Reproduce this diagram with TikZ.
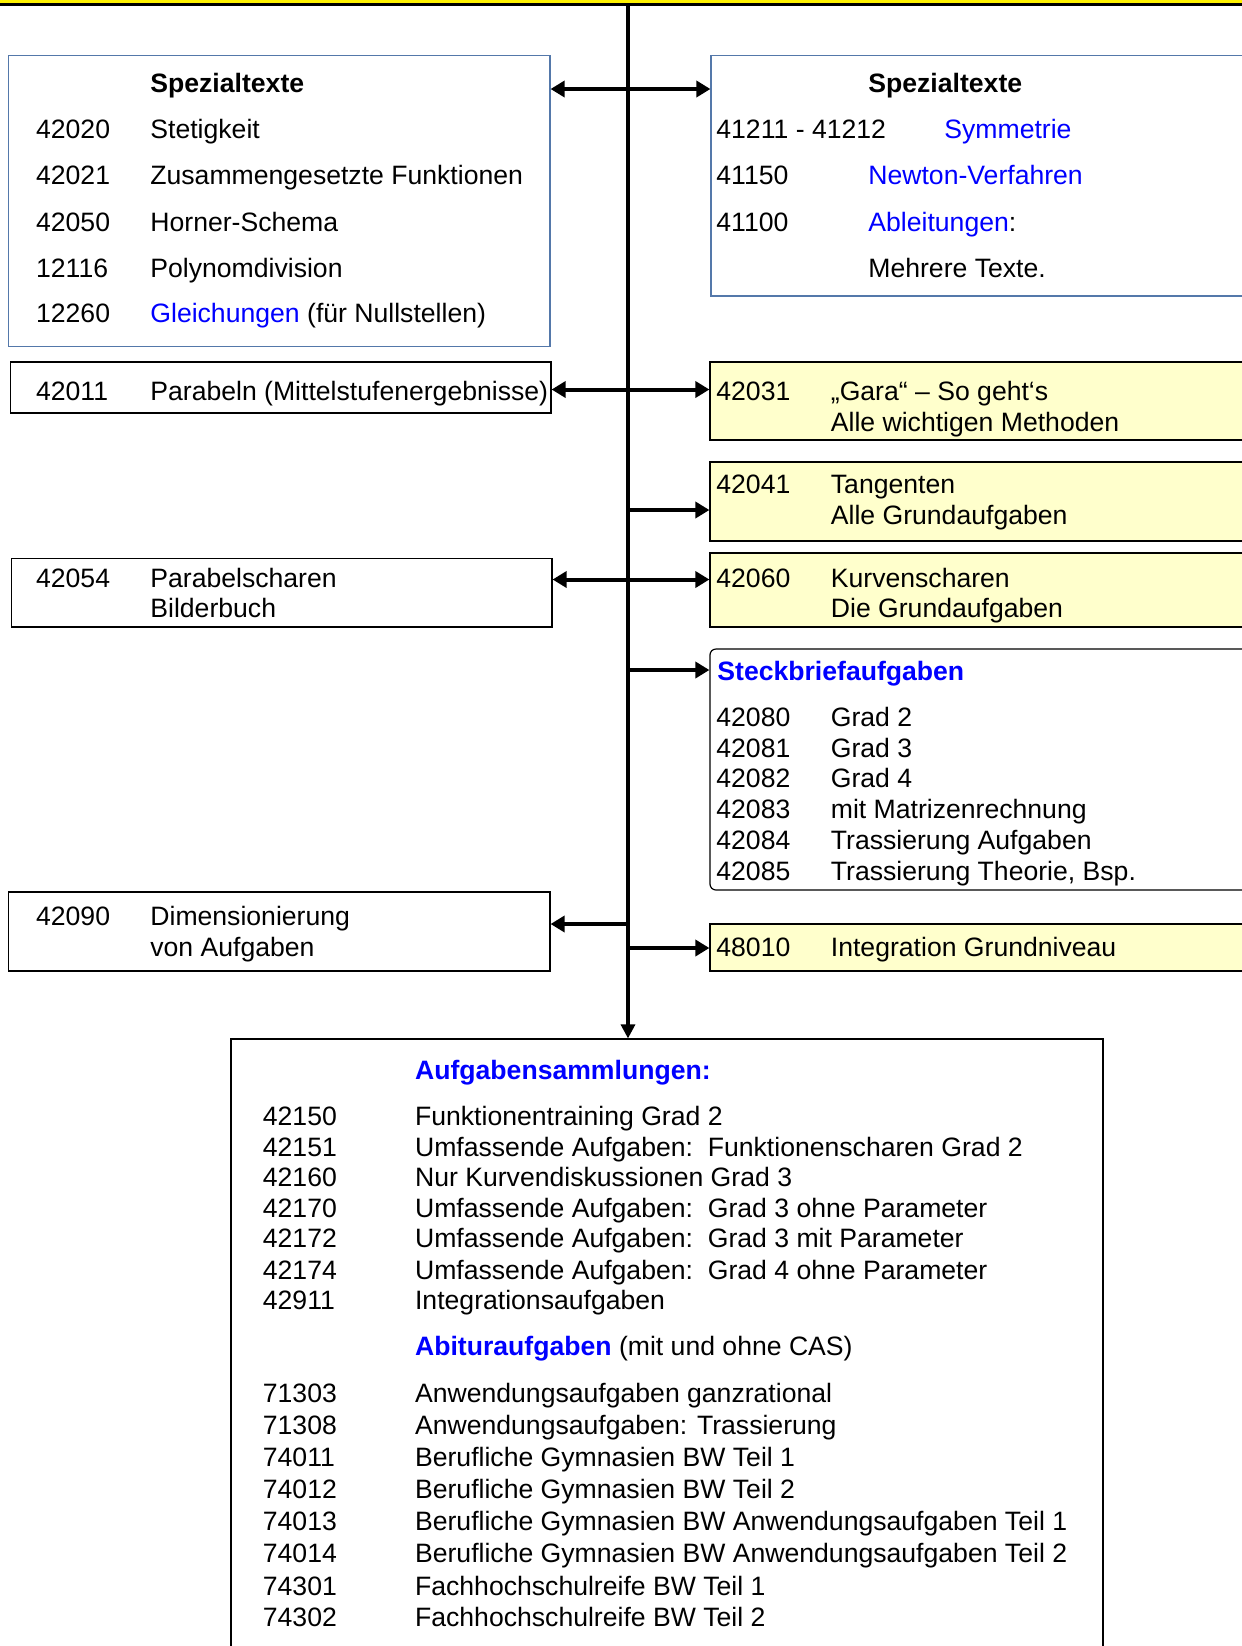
\documentclass[tikz,border=0pt]{standalone}
\usepackage{fontspec}
\setmainfont{Liberation Sans}
\usetikzlibrary{arrows.meta, fit}
\usepackage{xcolor}
\definecolor{specblue}{RGB}{84,120,170}
\definecolor{paleyellow}{RGB}{255,255,204}
\definecolor{linkblue}{RGB}{0,0,255}

\tikzset{
  box/.style={draw, line width=0.6pt, inner sep=0pt},
  specbox/.style={box, draw=specblue},
  yellowbox/.style={box, fill=paleyellow},
  txt/.style={anchor=base west, inner sep=0pt, font=\fontsize{13.3}{15.35}\selectfont},
  arr/.style={line width=2pt, -{Triangle[length=7pt,width=8pt]}},
}

\begin{document}
\begin{tikzpicture}[x=0.5pt,y=-0.5pt]
            \useasboundingbox (0,0) rectangle (1242,1646);
            % Header bar, only its lower edge is visible
            \node[fit={(-10,-60) (1260,4)}, fill=yellow, draw, line width=1.5pt, inner sep=0pt] (top) {};
            % Boxes left and right of the spine
            \node[specbox, fit={(8.4,55.6) (550,346.5)}] (l1) {};
            \node[specbox, fit={(711,55.6) (1300,296)}] (r1) {};
            \node[box, fit={(10.5,362) (551,413)}] (l2) {};
            \node[yellowbox, fit={(710,362) (1300,440)}] (r2) {};
            \node[yellowbox, fit={(710,462) (1300,541)}] (r3) {};
            \node[box, fit={(11.5,558.5) (552,627)}] (l3) {};
            \node[yellowbox, fit={(710,553) (1300,627)}] (r4) {};
            \node[box, rounded corners=3pt, fit={(710,649) (1300,890)}] (r5) {};
            \node[box, fit={(8.4,892) (550,971)}] (l4) {};
            \node[yellowbox, fit={(710,924) (1300,971)}] (r6) {};
            \node[box, fit={(231,1039) (1103,1700)}] (sam) {};
            % The spine
            \coordinate (spine) at (628,0);
            \draw[line width=1.6pt, -{Triangle[length=7pt,width=7pt]}] (top.south -| spine) -- (sam.north -| spine);
            \foreach \nm/\y in {a/89, b/389.5, c/510, d/579.5, e/670, f/924, g/948}
                \coordinate (\nm) at (628,\y);
            \foreach \src/\tgt in {a/l1.east, a/r1.west, b/l2.east, b/r2.west, c/r3.west,
                                   d/l3.east, d/r4.west, e/r5.west, f/l4.east, g/r6.west}
                \draw[arr] (\src) -- (\src -| \tgt);
            % Spezialtexte left
            \node[txt] (l1h) at (150,92.4) {\bfseries Spezialtexte};
            \foreach \i/\y/\n/\t in {1/138.6/42020/Stetigkeit, 2/184.8/42021/Zusammengesetzte Funktionen,
                                     3/231/42050/Horner-Schema, 4/277.2/12116/Polynomdivision,
                                     5/322.4/12260/{{\color{linkblue}Gleichungen} (für Nullstellen)}} {
                \node[txt] (l1n\i) at (35.7,\y) {\n};
                \node[txt] (l1t\i) at (150,\y) {\t};
            }
            % Spezialtexte right
            \node[txt] (r1h) at (868,92.4) {\bfseries Spezialtexte};
            \node[txt] (r1n1) at (716,138.6) {41211 - 41212};
            \node[txt, text=linkblue] (r1t1) at (944,138.6) {Symmetrie};
            \node[txt] (r1n2) at (716,184.8) {41150};
            \node[txt, text=linkblue] (r1t2) at (868,184.8) {Newton-Verfahren};
            \node[txt] (r1n3) at (716,231) {41100};
            \node[txt] (r1t3) at (868,231) {{\color{linkblue}Ableitungen}:};
            \node[txt] (r1t4) at (868,277.2) {Mehrere Texte.};
            % Single entries
            \node[txt] (l2n) at (35.7,400) {42011};
            \node[txt] (l2t) at (150,400) {Parabeln (Mittelstufenergebnisse)};
            \node[txt] (r2n) at (716,400) {42031};
            \node[txt] (r2t) at (830.5,400) {„Gara“ – So geht‘s};
            \node[txt] (r2u) at (830.5,431.6) {Alle wichtigen Methoden};
            \node[txt] (r3n) at (716,493.5) {42041};
            \node[txt] (r3t) at (830.5,493.5) {Tangenten};
            \node[txt] (r3u) at (830.5,524) {Alle Grundaufgaben};
            \node[txt] (l3n) at (35.7,587) {42054};
            \node[txt] (l3t) at (150,587) {Parabelscharen};
            \node[txt] (l3u) at (150,617.4) {Bilderbuch};
            \node[txt] (r4n) at (716,587) {42060};
            \node[txt] (r4t) at (830.5,587) {Kurvenscharen};
            \node[txt] (r4u) at (830.5,617.4) {Die Grundaufgaben};
            % Steckbriefaufgaben
            \node[txt, text=linkblue] (r5h) at (717,680.4) {\bfseries Steckbriefaufgaben};
            \foreach \i/\y/\n/\t in {1/726.6/42080/Grad 2, 2/757/42081/Grad 3, 3/787.5/42082/Grad 4,
                                     4/818/42083/mit Matrizenrechnung, 5/849.4/42084/Trassierung Aufgaben,
                                     6/880/42085/{Trassierung Theorie, Bsp.}} {
                \node[txt] (r5n\i) at (716,\y) {\n};
                \node[txt] (r5t\i) at (830.5,\y) {\t};
            }
            \node[txt] (l4n) at (35.7,925) {42090};
            \node[txt] (l4t) at (150,925) {Dimensionierung};
            \node[txt] (l4u) at (150,956.5) {von Aufgaben};
            \node[txt] (r6n) at (716,956.5) {48010};
            \node[txt] (r6t) at (830.5,956.5) {Integration Grundniveau};
            % Aufgabensammlungen
            \node[txt, text=linkblue] (samh) at (414.7,1079.4) {\bfseries Aufgabensammlungen:};
            \foreach \i/\y/\n/\t in {1/1125.6/42150/Funktionentraining Grad 2,
                                     2/1156/42151/Umfassende Aufgaben:\ \ Funktionenscharen Grad 2,
                                     3/1186.5/42160/Nur Kurvendiskussionen Grad 3,
                                     4/1217/42170/Umfassende Aufgaben:\ \ Grad 3 ohne Parameter,
                                     5/1247.3/42172/Umfassende Aufgaben:\ \ Grad 3 mit Parameter,
                                     6/1279/42174/Umfassende Aufgaben:\ \ Grad 4 ohne Parameter,
                                     7/1309.3/42911/Integrationsaufgaben} {
                \node[txt] (samn\i) at (262.5,\y) {\n};
                \node[txt] (samt\i) at (414.7,\y) {\t};
            }
            \node[txt] (abih) at (414.7,1355.5) {{\color{linkblue}\bfseries Abituraufgaben} (mit und ohne CAS)};
            \foreach \i/\y/\n/\t in {1/1402.7/71303/Anwendungsaufgaben ganzrational,
                                     2/1434/71308/Anwendungsaufgaben: Trassierung,
                                     3/1466.7/74011/Berufliche Gymnasien BW Teil 1,
                                     4/1498/74012/Berufliche Gymnasien BW Teil 2,
                                     5/1530.9/74013/Berufliche Gymnasien BW Anwendungsaufgaben Teil 1,
                                     6/1562.3/74014/Berufliche Gymnasien BW Anwendungsaufgaben Teil 2,
                                     7/1595/74301/Fachhochschulreife BW Teil 1,
                                     8/1626.4/74302/Fachhochschulreife BW Teil 2} {
                \node[txt] (abin\i) at (262.5,\y) {\n};
                \node[txt] (abit\i) at (414.7,\y) {\t};
            }
        \end{tikzpicture}
\end{document}
